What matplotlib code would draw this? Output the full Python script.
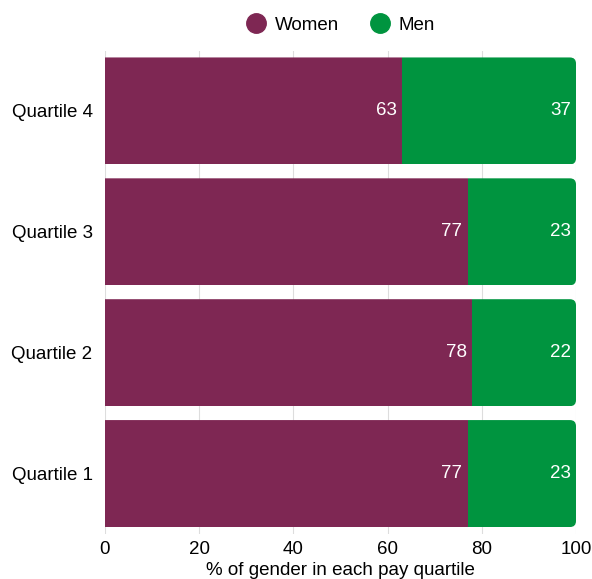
import matplotlib
matplotlib.use("Agg")
import matplotlib.pyplot as plt
from matplotlib.patches import FancyBboxPatch
from matplotlib.lines import Line2D

quartiles = ["Quartile 1", "Quartile 2", "Quartile 3", "Quartile 4"]
women = [77, 78, 77, 63]
men = [23, 22, 23, 37]
xticks = [0, 20, 40, 60, 80, 100]

c_women = "#7E2753"
c_men = "#00943F"

plt.rcParams['font.family'] = ['Liberation Sans', 'DejaVu Sans']
plt.rcParams['font.size'] = 13.5

fig = plt.figure(figsize=(5.92, 5.79), dpi=100)
ax = fig.add_axes([105/592, 1 - 534/579, 471/592, (534 - 50.5)/579])

h = 0.885
ys = list(range(len(quartiles)))
rx = 1.3
ry = 0.05
for y, w, m in zip(ys, women, men):
    bm = ax.barh(y, m, left=w, height=h, color=c_men, zorder=2)
    bw = ax.barh(y, w, height=h, color=c_women, zorder=3)
    clip = FancyBboxPatch((-10, y - h/2), w + m + 10, h,
                          boxstyle=f"round,pad=0,rounding_size={rx}",
                          mutation_aspect=ry/rx, transform=ax.transData,
                          facecolor='none', edgecolor='none')
    ax.add_patch(clip)
    clip.set_visible(False)
    for p in list(bm) + list(bw):
        p.set_clip_path(clip)
    ax.text(w - 1.1, y, str(w), ha='right', va='center', color='white', fontsize=13.5, zorder=4)
    ax.text(w + m - 1.1, y, str(m), ha='right', va='center', color='white', fontsize=13.5, zorder=4)

ax.set_xlim(0, 100)
ax.set_ylim(-0.5, len(quartiles) - 0.5)
ax.set_yticks(ys)
ax.set_yticklabels(quartiles)
ax.set_xticks(xticks)
ax.tick_params(axis='y', length=0, pad=9)
ax.tick_params(axis='x', length=0, pad=5)
for s in ax.spines.values():
    s.set_visible(False)
ax.grid(axis='x', color='#DDDDDD', linewidth=0.8, zorder=0)
ax.set_axisbelow(True)
ax.set_xlabel("% of gender in each pay quartile", fontsize=13.5, labelpad=3)

handles = [Line2D([], [], marker='o', linestyle='none', markersize=14, color=c_women),
           Line2D([], [], marker='o', linestyle='none', markersize=14, color=c_men)]
ax.legend(handles, ["Women", "Men"], loc='lower center', bbox_to_anchor=(0.5, 1.0),
          ncol=2, frameon=False, handlelength=1.1, handletextpad=0.45,
          columnspacing=1.65, fontsize=13.5, borderaxespad=0.5)

fig.savefig("out.png", dpi=100)
